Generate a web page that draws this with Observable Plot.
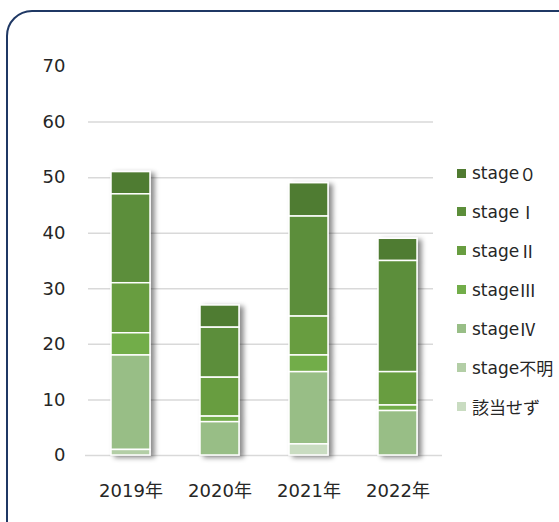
<!DOCTYPE html>
<html>
<head>
<meta charset="utf-8">
<script src="https://cdn.jsdelivr.net/npm/d3@7"></script>
<script src="https://cdn.jsdelivr.net/npm/@observablehq/plot@0.6"></script>
<style>
  html, body { margin: 0; padding: 0; background: #fff; }
  #wrap { position: relative; width: 559px; height: 522px; overflow: hidden; }
  #frame { position: absolute; left: 6px; top: 10px; width: 580px; height: 540px;
           border: 2px solid #1f3864; border-radius: 26px; box-sizing: border-box; pointer-events: none; }
  #legend { position: absolute; left: 457px; top: 163px; font-family: "DejaVu Sans", "Noto Sans CJK JP", sans-serif;
            font-size: 17px; color: #262626; }
  .item { position: absolute; left: 0; height: 20px; white-space: nowrap; display: flex; align-items: center; }
  .sw { width: 9px; height: 9px; margin-right: 6px; flex: none; }
  .cjk { font-family: "Noto Sans CJK JP", sans-serif; }
</style>
</head>
<body>
<div id="wrap">
  <div id="chart"></div>
  <div id="legend"></div>
  <div id="frame"></div>
</div>
<script>
const years = ["2019年", "2020年", "2021年", "2022年"];
const seriesNames = ["stage０", "stageⅠ", "stageⅡ", "stageⅢ", "stageⅣ", "stage不明", "該当せず"];
const stage0 = [4, 4, 6, 4];
const stage1 = [16, 9, 18, 20];
const stage2 = [9, 7, 7, 6];
const stage3 = [4, 1, 3, 1];
const stage4 = [17, 6, 13, 8];
const stageUnknown = [1, 0, 0, 0];
const notApplicable = [0, 0, 2, 0];
const colors = ["#507b31", "#5c8e3a", "#689d40", "#72ad49", "#98be86", "#b3cea6", "#c9dcc1"];
const yTicks = [0, 10, 20, 30, 40, 50, 60, 70];

const seriesValues = [stage0, stage1, stage2, stage3, stage4, stageUnknown, notApplicable];
const data = [];
seriesNames.forEach((s, i) => years.forEach((y, j) => data.push({year: y, series: s, value: seriesValues[i][j]})));
const stackOrder = seriesNames.slice().reverse();

const font = '"DejaVu Sans", "Noto Sans CJK JP", sans-serif';
const chart = Plot.plot({
  width: 559,
  height: 522,
  marginLeft: 85,
  marginRight: 117,
  marginTop: 66,
  marginBottom: 67,
  style: {fontFamily: font, fontSize: "18px", color: "#262626", background: "transparent"},
  x: {domain: years, paddingInner: 0.564, paddingOuter: 0.28, label: null, tickSize: 0, tickPadding: 29},
  y: {domain: [0, 70], ticks: yTicks, label: null, tickSize: 0, tickPadding: 20},
  color: {domain: seriesNames, range: colors},
  marks: [
    Plot.ruleY(yTicks.filter(t => t > 0 && t < 70), {stroke: "#d9d9d9", strokeWidth: 1.5, insetLeft: 3, insetRight: 9}),
    Plot.ruleY([0], {stroke: "#d9d9d9", strokeWidth: 1.5}),
    Plot.barY(data, Plot.stackY({order: stackOrder}, {x: "year", y: "value", fill: "series", stroke: "white", strokeWidth: 1.5})),
  ]
});
document.getElementById("chart").appendChild(chart);

// drop shadow for bars
const svg = d3.select(chart);
const defs = svg.insert("defs", ":first-child");
const f = defs.append("filter").attr("id", "shadow").attr("x", "-20%").attr("y", "-10%").attr("width", "150%").attr("height", "130%");
f.append("feDropShadow").attr("dx", 4).attr("dy", 2).attr("stdDeviation", 2.5).attr("flood-color", "#000").attr("flood-opacity", 0.45);
svg.selectAll("g[aria-label='bar']").attr("filter", "url(#shadow)");

// legend
const legend = d3.select("#legend");
seriesNames.forEach((s, i) => {
  const it = legend.append("div").attr("class", "item").style("top", (i * 38.9) + "px");
  it.append("div").attr("class", "sw").style("background", colors[i]);
  const m = s.match(/^(stage)(.*)$/);
  if (m) {
    it.append("span").text(m[1]);
    it.append("span").attr("class", "cjk").text(m[2]);
  } else {
    it.append("span").attr("class", "cjk").text(s);
  }
});
</script>
</body>
</html>
